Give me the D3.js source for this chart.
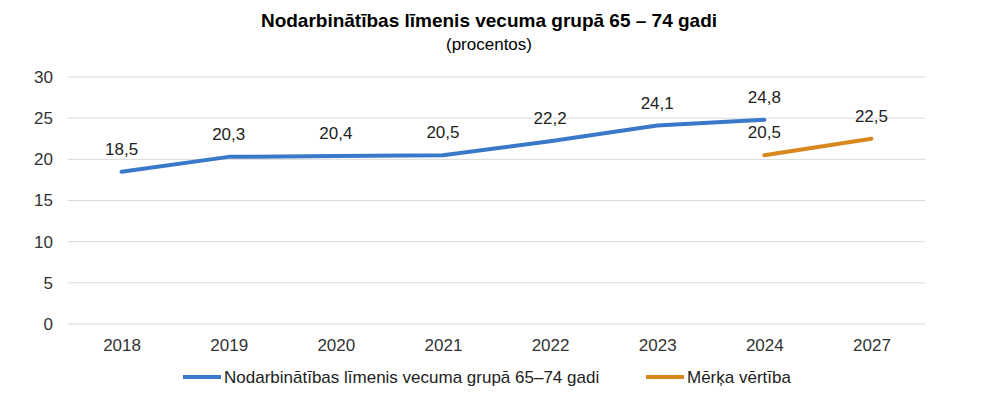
<!DOCTYPE html>
<html lang="lv">
<head>
    <meta charset="UTF-8">
    <title>Nodarbinātības līmenis</title>
    <script src="https://d3js.org/d3.v7.min.js"></script>
    <style>
        body {margin: 0; background: #fff}
        text {font-family: 'Liberation Sans', Arial, sans-serif; fill: #222}
        .grid line {stroke: #d9d9d9; stroke-width: 1}
        .axis path, .axis line {display: none}
        .axis text {font-size: 17px; fill: #333; font-family: 'Liberation Sans', Arial, sans-serif}
    </style>
</head>
<body>
<script>
    const width  = 1000;
    const height = 393;

    const years     = ["2018", "2019", "2020", "2021", "2022", "2023", "2024", "2027"];
    const employed  = [18.5, 20.3, 20.4, 20.5, 22.2, 24.1, 24.8, null];
    const target    = [null, null, null, null, null, null, 20.5, 22.5];
    const yTicks    = [0, 5, 10, 15, 20, 25, 30];

    const series = [
        {name: "Nodarbinātības līmenis vecuma grupā 65–74 gadi", values: employed, color: "#3a79c9"},
        {name: "Mērķa vērtība", values: target, color: "#d9881e"}
    ];

    const plotLeft = 68, plotRight = 925, plotTop = 77, plotBottom = 324;

    const x = d3.scalePoint().domain(years).range([plotLeft, plotRight]).padding(0.5);
    const y = d3.scaleLinear().domain([0, 30]).range([plotBottom, plotTop]);

    const svg = d3.select("body").append("svg")
            .attr("width", width).attr("height", height);

    // title
    svg.append("text").attr("x", 489).attr("y", 27)
            .attr("text-anchor", "middle")
            .style("font-size", "19px").style("font-weight", "bold").style("fill", "#000")
            .text("Nodarbinātības līmenis vecuma grupā 65 – 74 gadi");
    svg.append("text").attr("x", 489).attr("y", 50)
            .attr("text-anchor", "middle")
            .style("font-size", "17px").style("fill", "#000")
            .text("(procentos)");

    // gridlines
    svg.append("g").attr("class", "grid")
        .selectAll("line").data(yTicks).join("line")
            .attr("x1", plotLeft).attr("x2", plotRight)
            .attr("y1", d => y(d)).attr("y2", d => y(d));

    // axes
    svg.append("g").attr("class", "axis")
            .attr("transform", `translate(${plotLeft},0)`)
            .call(d3.axisLeft(y).tickValues(yTicks).tickSize(0).tickPadding(15));

    svg.append("g").attr("class", "axis")
            .attr("transform", `translate(0,${plotBottom})`)
            .call(d3.axisBottom(x).tickSize(0).tickPadding(15));

    const fmt = v => d3.format(".1f")(v).replace(".", ",");

    const line = d3.line()
            .defined(d => d.v != null)
            .x(d => x(d.year))
            .y(d => y(d.v));

    series.forEach(s => {
        const pts = years.map((year, i) => ({year, v: s.values[i]}));
        svg.append("path")
                .datum(pts)
                .attr("fill", "none")
                .attr("stroke", s.color)
                .attr("stroke-width", 4)
                .attr("stroke-linecap", "round")
                .attr("stroke-linejoin", "round")
                .attr("d", line);

        svg.append("g").selectAll("text")
            .data(pts.filter(d => d.v != null)).join("text")
                .attr("x", d => x(d.year))
                .attr("y", d => y(d.v) - 17)
                .attr("text-anchor", "middle")
                .style("font-size", "17px")
                .text(d => fmt(d.v));
    });

    // legend
    const legendPos = [183, 646];
    const lg = svg.append("g").selectAll("g")
        .data(series).join("g")
            .attr("transform", (d, i) => `translate(${legendPos[i]},377)`);
    lg.append("line")
            .attr("x1", 0).attr("x2", 38)
            .attr("stroke", d => d.color).attr("stroke-width", 4);
    lg.append("text")
            .attr("x", 41).attr("y", 6)
            .style("font-size", "17px")
            .text(d => d.name);
</script>
</body>
</html>
